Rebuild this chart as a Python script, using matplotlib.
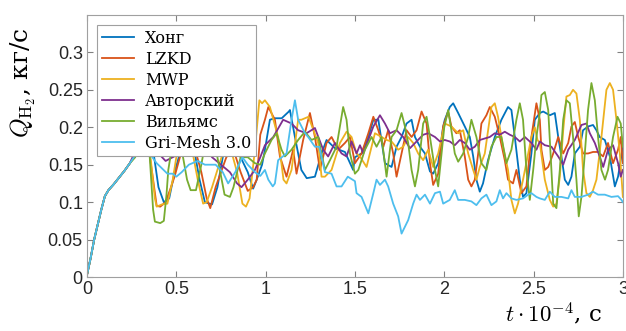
import numpy as np
import matplotlib
matplotlib.use('Agg')
from matplotlib import pyplot as plt

plt.rcParams['mathtext.fontset'] = 'cm'

# common start of all curves
t_start = [0, 0.02, 0.04, 0.06, 0.08, 0.10, 0.12, 0.15, 0.18, 0.21, 0.24]
q_start = [0.003, 0.025, 0.05, 0.07, 0.09, 0.108, 0.116, 0.124, 0.133, 0.142, 0.152]

t_hong = [0.27, 0.31, 0.34, 0.37, 0.40, 0.43, 0.46, 0.49, 0.52, 0.55, 0.60, 0.63, 0.66, 0.70, 0.73, 0.76,
          0.80, 0.85, 0.90, 0.93, 0.95, 0.98, 0.996, 1.024, 1.05, 1.09, 1.13, 1.136, 1.164, 1.2, 1.23,
          1.276, 1.313, 1.341, 1.388, 1.444, 1.49, 1.5, 1.537, 1.575, 1.603, 1.631, 1.668, 1.705, 1.733,
          1.761, 1.789, 1.817, 1.836, 1.864, 1.892, 1.92, 1.938, 1.966, 1.994, 2.003, 2.031, 2.05, 2.078,
          2.115, 2.143, 2.162, 2.18, 2.199, 2.217, 2.245, 2.283, 2.32, 2.357, 2.376, 2.395, 2.423, 2.441,
          2.46, 2.488, 2.507, 2.535, 2.554, 2.591, 2.619, 2.638, 2.656, 2.675, 2.694, 2.712, 2.731, 2.759,
          2.777, 2.805, 2.833, 2.852, 2.87, 2.899, 2.927, 2.955, 2.973, 3.0]
q_hong = [0.163, 0.19, 0.2, 0.17, 0.12, 0.1, 0.105, 0.14, 0.165, 0.19, 0.17, 0.13, 0.1, 0.097, 0.12, 0.16,
          0.18, 0.165, 0.14, 0.118, 0.13, 0.15, 0.17, 0.21, 0.212, 0.212, 0.221, 0.223, 0.187, 0.143, 0.132,
          0.134, 0.165, 0.183, 0.172, 0.167, 0.143, 0.16, 0.165, 0.187, 0.21, 0.21, 0.152, 0.147, 0.174,
          0.187, 0.205, 0.21, 0.187, 0.174, 0.165, 0.141, 0.138, 0.152, 0.201, 0.21, 0.227, 0.232, 0.219,
          0.201, 0.187, 0.161, 0.13, 0.114, 0.125, 0.156, 0.187, 0.21, 0.227, 0.223, 0.187, 0.13, 0.107,
          0.112, 0.165, 0.21, 0.219, 0.221, 0.216, 0.219, 0.187, 0.161, 0.13, 0.123, 0.134, 0.165, 0.174,
          0.196, 0.201, 0.203, 0.196, 0.187, 0.183, 0.161, 0.121, 0.134, 0.174]

t_lzkd = [0.27, 0.31, 0.34, 0.37, 0.39, 0.41, 0.44, 0.47, 0.49, 0.52, 0.56, 0.60, 0.64, 0.67, 0.69, 0.72,
          0.75, 0.78, 0.82, 0.86, 0.90, 0.93, 0.95, 0.97, 0.996, 1.015, 1.052, 1.08, 1.117, 1.154, 1.173,
          1.21, 1.248, 1.276, 1.304, 1.341, 1.369, 1.406, 1.444, 1.472, 1.5, 1.537, 1.575, 1.603, 1.631,
          1.659, 1.686, 1.714, 1.733, 1.761, 1.789, 1.817, 1.845, 1.873, 1.901, 1.92, 1.938, 1.966, 1.994,
          2.022, 2.04, 2.068, 2.087, 2.115, 2.134, 2.152, 2.171, 2.19, 2.208, 2.236, 2.255, 2.283, 2.311,
          2.339, 2.357, 2.385, 2.404, 2.432, 2.46, 2.488, 2.516, 2.535, 2.544, 2.563, 2.582, 2.61, 2.638,
          2.666, 2.694, 2.712, 2.731, 2.75, 2.777, 2.805, 2.833, 2.861, 2.889, 2.917, 2.945, 2.973, 2.988, 3.0]
q_lzkd = [0.165, 0.2, 0.18, 0.13, 0.095, 0.094, 0.1, 0.12, 0.134, 0.16, 0.19, 0.175, 0.14, 0.105, 0.092, 0.12,
          0.14, 0.16, 0.17, 0.14, 0.115, 0.12, 0.13, 0.19, 0.21, 0.227, 0.21, 0.161, 0.134, 0.17, 0.138,
          0.183, 0.219, 0.187, 0.143, 0.179, 0.187, 0.17, 0.179, 0.187, 0.152, 0.165, 0.192, 0.214, 0.196,
          0.174, 0.196, 0.165, 0.134, 0.165, 0.196, 0.187, 0.196, 0.221, 0.205, 0.152, 0.123, 0.138, 0.201,
          0.221, 0.201, 0.192, 0.196, 0.161, 0.13, 0.121, 0.13, 0.165, 0.205, 0.216, 0.227, 0.214, 0.187,
          0.156, 0.13, 0.125, 0.143, 0.112, 0.121, 0.187, 0.232, 0.21, 0.17, 0.143, 0.147, 0.165, 0.187,
          0.165, 0.179, 0.201, 0.207, 0.187, 0.165, 0.165, 0.167, 0.167, 0.161, 0.179, 0.152, 0.17, 0.187, 0.152]

t_mwp = [0.27, 0.31, 0.34, 0.36, 0.38, 0.39, 0.42, 0.45, 0.48, 0.50, 0.54, 0.58, 0.62, 0.65, 0.67, 0.70,
         0.73, 0.76, 0.80, 0.84, 0.87, 0.89, 0.91, 0.94, 0.965, 0.98, 0.996, 1.024, 1.07, 1.1, 1.117,
         1.145, 1.182, 1.2, 1.24, 1.294, 1.313, 1.332, 1.369, 1.416, 1.453, 1.481, 1.509, 1.528, 1.565,
         1.593, 1.612, 1.649, 1.677, 1.705, 1.742, 1.77, 1.798, 1.826, 1.854, 1.882, 1.91, 1.938, 1.966,
         2.003, 2.04, 2.078, 2.106, 2.134, 2.162, 2.18, 2.199, 2.227, 2.264, 2.283, 2.301, 2.329, 2.357,
         2.376, 2.395, 2.413, 2.441, 2.47, 2.488, 2.507, 2.522, 2.535, 2.563, 2.591, 2.61, 2.628, 2.647,
         2.666, 2.684, 2.703, 2.721, 2.74, 2.759, 2.777, 2.796, 2.815, 2.833, 2.852, 2.88, 2.908, 2.927,
         2.945, 2.964, 2.983, 3.0]
q_mwp = [0.162, 0.21, 0.19, 0.15, 0.105, 0.094, 0.097, 0.098, 0.13, 0.16, 0.2, 0.18, 0.13, 0.098, 0.1, 0.12,
         0.143, 0.165, 0.175, 0.14, 0.098, 0.094, 0.105, 0.17, 0.236, 0.232, 0.236, 0.227, 0.187, 0.13, 0.125,
         0.143, 0.21, 0.21, 0.214, 0.179, 0.134, 0.134, 0.143, 0.179, 0.194, 0.187, 0.165, 0.161, 0.147,
         0.174, 0.192, 0.187, 0.183, 0.181, 0.17, 0.174, 0.187, 0.179, 0.165, 0.156, 0.17, 0.147, 0.165,
         0.205, 0.201, 0.192, 0.196, 0.165, 0.143, 0.13, 0.147, 0.165, 0.227, 0.232, 0.214, 0.174, 0.143,
         0.103, 0.085, 0.098, 0.13, 0.165, 0.187, 0.2, 0.183, 0.179, 0.13, 0.103, 0.094, 0.098, 0.134,
         0.196, 0.241, 0.243, 0.25, 0.245, 0.21, 0.143, 0.112, 0.107, 0.116, 0.13, 0.187, 0.25, 0.259,
         0.25, 0.21, 0.165, 0.107]

t_avt = [0.27, 0.32, 0.36, 0.40, 0.44, 0.48, 0.52, 0.56, 0.60, 0.65, 0.70, 0.75, 0.80, 0.84, 0.865, 0.90,
         0.94, 0.97, 0.996, 1.043, 1.098, 1.145, 1.182, 1.229, 1.276, 1.322, 1.35, 1.388, 1.425, 1.453,
         1.481, 1.509, 1.528, 1.547, 1.603, 1.64, 1.668, 1.696, 1.733, 1.77, 1.808, 1.845, 1.882, 1.91,
         1.948, 1.976, 2.003, 2.031, 2.059, 2.087, 2.115, 2.143, 2.171, 2.199, 2.227, 2.255, 2.283, 2.311,
         2.339, 2.367, 2.395, 2.423, 2.451, 2.488, 2.516, 2.535, 2.563, 2.6, 2.638, 2.666, 2.694, 2.731,
         2.768, 2.796, 2.815, 2.843, 2.87, 2.89, 2.917, 2.945, 2.973, 2.988, 3.0]
q_avt = [0.168, 0.2, 0.19, 0.165, 0.155, 0.16, 0.165, 0.17, 0.18, 0.175, 0.16, 0.15, 0.14, 0.125, 0.12, 0.13,
         0.143, 0.16, 0.176, 0.187, 0.21, 0.205, 0.196, 0.192, 0.199, 0.17, 0.161, 0.179, 0.165, 0.161,
         0.181, 0.165, 0.176, 0.165, 0.201, 0.216, 0.205, 0.192, 0.196, 0.187, 0.172, 0.181, 0.19, 0.192,
         0.187, 0.181, 0.183, 0.181, 0.176, 0.183, 0.179, 0.17, 0.174, 0.183, 0.185, 0.187, 0.192, 0.19,
         0.194, 0.19, 0.187, 0.181, 0.187, 0.179, 0.17, 0.181, 0.176, 0.174, 0.161, 0.15, 0.17, 0.183,
         0.203, 0.205, 0.192, 0.179, 0.161, 0.147, 0.17, 0.176, 0.152, 0.134, 0.143]

t_wil = [0.27, 0.30, 0.33, 0.35, 0.37, 0.38, 0.41, 0.43, 0.445, 0.455, 0.47, 0.50, 0.53, 0.56, 0.58, 0.61,
         0.64, 0.67, 0.70, 0.73, 0.77, 0.80, 0.82, 0.86, 0.90, 0.94, 0.97, 0.996, 1.033, 1.061, 1.089,
         1.108, 1.145, 1.182, 1.22, 1.257, 1.294, 1.332, 1.36, 1.397, 1.434, 1.453, 1.472, 1.5, 1.519,
         1.556, 1.593, 1.621, 1.649, 1.677, 1.705, 1.733, 1.761, 1.78, 1.798, 1.817, 1.836, 1.854, 1.882,
         1.901, 1.92, 1.948, 1.966, 1.985, 2.0, 2.022, 2.04, 2.059, 2.078, 2.106, 2.134, 2.152, 2.18,
         2.208, 2.236, 2.264, 2.292, 2.32, 2.348, 2.376, 2.404, 2.423, 2.441, 2.46, 2.479, 2.498, 2.516,
         2.535, 2.544, 2.563, 2.582, 2.6, 2.61, 2.628, 2.647, 2.666, 2.684, 2.703, 2.721, 2.74, 2.753,
         2.768, 2.787, 2.805, 2.824, 2.843, 2.861, 2.88, 2.9, 2.917, 2.945, 2.97, 2.988, 3.0]
q_wil = [0.16, 0.19, 0.2, 0.165, 0.09, 0.074, 0.072, 0.075, 0.11, 0.143, 0.165, 0.19, 0.17, 0.13, 0.116, 0.116,
         0.15, 0.19, 0.2, 0.16, 0.11, 0.107, 0.12, 0.16, 0.16, 0.152, 0.15, 0.165, 0.183, 0.192, 0.17,
         0.161, 0.17, 0.183, 0.194, 0.183, 0.187, 0.143, 0.156, 0.174, 0.227, 0.21, 0.165, 0.138, 0.143,
         0.17, 0.187, 0.174, 0.187, 0.134, 0.187, 0.196, 0.219, 0.201, 0.179, 0.143, 0.121, 0.143, 0.205,
         0.214, 0.187, 0.143, 0.121, 0.165, 0.2, 0.223, 0.196, 0.165, 0.154, 0.165, 0.187, 0.21, 0.187,
         0.152, 0.143, 0.174, 0.187, 0.187, 0.152, 0.17, 0.21, 0.232, 0.21, 0.143, 0.103, 0.143, 0.187,
         0.219, 0.243, 0.247, 0.223, 0.143, 0.098, 0.092, 0.143, 0.21, 0.236, 0.232, 0.187, 0.13, 0.081,
         0.107, 0.165, 0.223, 0.259, 0.236, 0.187, 0.143, 0.13, 0.143, 0.187, 0.214, 0.205, 0.174]

t_gri = [0.27, 0.31, 0.35, 0.39, 0.42, 0.45, 0.48, 0.50, 0.53, 0.57, 0.62, 0.66, 0.72, 0.76, 0.79, 0.83,
         0.87, 0.90, 0.94, 0.97, 0.996, 1.015, 1.04, 1.052, 1.07, 1.117, 1.145, 1.164, 1.182, 1.22, 1.238,
         1.276, 1.3, 1.332, 1.369, 1.397, 1.425, 1.46, 1.5, 1.509, 1.537, 1.575, 1.603, 1.621, 1.64,
         1.668, 1.686, 1.714, 1.742, 1.761, 1.798, 1.826, 1.845, 1.864, 1.892, 1.92, 1.948, 1.976, 1.994,
         2.031, 2.059, 2.078, 2.115, 2.152, 2.18, 2.208, 2.236, 2.264, 2.292, 2.311, 2.329, 2.348, 2.376,
         2.404, 2.441, 2.47, 2.488, 2.516, 2.535, 2.563, 2.591, 2.619, 2.656, 2.694, 2.712, 2.731, 2.768,
         2.805, 2.833, 2.861, 2.899, 2.936, 2.973, 2.992, 3.0]
q_gri = [0.163, 0.17, 0.165, 0.152, 0.145, 0.138, 0.138, 0.134, 0.14, 0.15, 0.155, 0.15, 0.15, 0.14, 0.125, 0.14,
         0.16, 0.15, 0.14, 0.135, 0.143, 0.13, 0.121, 0.125, 0.156, 0.165, 0.21, 0.236, 0.21, 0.192, 0.187,
         0.174, 0.174, 0.14, 0.138, 0.121, 0.121, 0.134, 0.128, 0.112, 0.107, 0.085, 0.112, 0.13, 0.123,
         0.13, 0.121, 0.098, 0.081, 0.058, 0.076, 0.098, 0.11, 0.103, 0.11, 0.098, 0.112, 0.114, 0.098,
         0.103, 0.116, 0.103, 0.103, 0.101, 0.096, 0.105, 0.11, 0.096, 0.101, 0.116, 0.105, 0.112, 0.105,
         0.103, 0.105, 0.11, 0.112, 0.107, 0.105, 0.103, 0.114, 0.107, 0.107, 0.105, 0.116, 0.107, 0.107,
         0.11, 0.114, 0.11, 0.11, 0.107, 0.108, 0.103, 0.1]

series = [
    ('Хонг', t_hong, q_hong, '#0072BD'),
    ('LZKD', t_lzkd, q_lzkd, '#D95319'),
    ('MWP', t_mwp, q_mwp, '#EDB120'),
    ('Авторский', t_avt, q_avt, '#7E2F8E'),
    ('Вильямс', t_wil, q_wil, '#77AC30'),
    ('Gri-Mesh 3.0', t_gri, q_gri, '#4DBEEE'),
]

fig = plt.figure(figsize=(6.26, 3.31), dpi=100)
ax = fig.add_axes([0.139, 0.163, 0.856, 0.792])

for name, t, q, c in series:
    ax.plot(t_start + t, q_start + q, color=c, lw=1.3, label=name)

ax.set_xlim(0, 3)
ax.set_ylim(0, 0.35)
ax.set_xticks(np.arange(0, 3.01, 0.5))
ax.set_xticklabels(['0', '0.5', '1', '1.5', '2', '2.5', '3'])
ax.set_yticks(np.arange(0, 0.301, 0.05))
ax.set_yticklabels(['0', '0.05', '0.1', '0.15', '0.2', '0.25', '0.3'])
ax.tick_params(direction='in', length=4, width=0.8, color='#808080', top=True, right=True,
               labelsize=13, labelcolor='#262626', pad=3)
for lab in ax.get_xticklabels() + ax.get_yticklabels():
    lab.set_family('Liberation Sans')
for s in ax.spines.values():
    s.set_color('#a0a0a0')
    s.set_linewidth(0.8)

ax.set_ylabel(r'$Q_{\mathrm{H}_2}$, кг/с', fontsize=18, family='DejaVu Serif')
ax.yaxis.set_label_coords(-0.092, 0.74)
fig.text(0.884, 0.026, r'$t \cdot 10^{-4}$, с', fontsize=16.5, family='DejaVu Serif',
         ha='center', va='baseline')

leg = ax.legend(loc='upper left', bbox_to_anchor=(0.0187, 0.962), borderaxespad=0,
                prop={'family': 'DejaVu Serif', 'size': 11.5},
                handlelength=2.0, handletextpad=0.7, labelspacing=0.25, borderpad=0.3,
                fancybox=False, framealpha=1, edgecolor='#a0a0a0')
leg.get_frame().set_linewidth(0.8)

plt.savefig('out.png')
